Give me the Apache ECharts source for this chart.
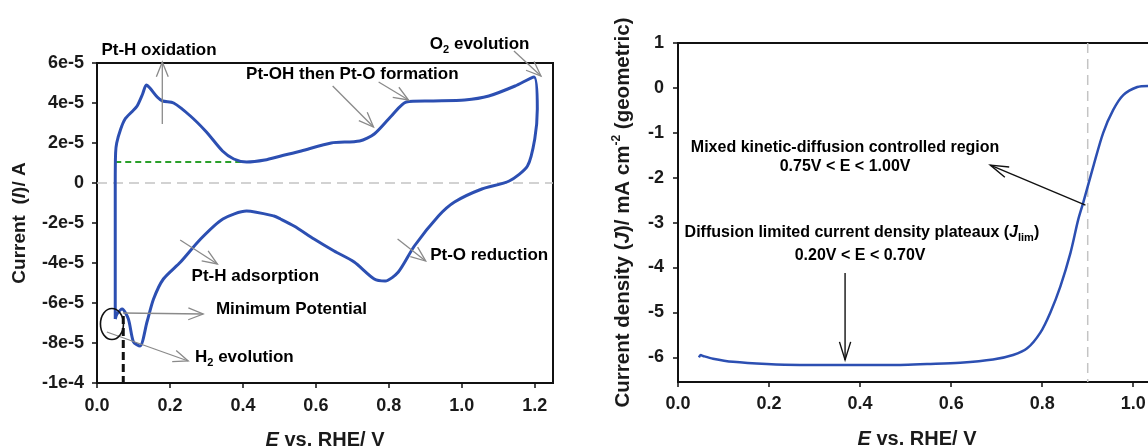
<!DOCTYPE html>
<html><head><meta charset="utf-8">
<script src="https://cdn.jsdelivr.net/npm/echarts@6/dist/echarts.min.js"></script>
<style>html,body{margin:0;padding:0;background:#fff}#c{width:1148px;height:447px}</style>
</head><body><div id="c"></div>
<script>
// ---------- Data: cyclic voltammogram (left) ----------
const cvPotential = [0.050,0.050,0.050,0.051,0.054,0.065,0.077,0.095,0.110,0.125,0.135,0.145,0.165,0.180,0.210,0.256,0.300,0.344,0.375,0.410,0.460,0.504,0.560,0.642,0.720,0.760,0.807,0.848,0.917,1.008,1.074,1.146,1.198,
  1.207,1.200,1.180,1.130,1.055,0.980,0.936,0.870,0.826,0.790,0.760,0.705,0.650,0.595,0.540,0.503,0.485,0.410,0.345,0.284,0.229,0.182,0.155,0.137,0.118,0.100,0.086,0.069,0.055,0.050];
const cvCurrent = [-6.8e-5,-4.0e-5,0.0,1.5e-5,2.0e-5,2.7e-5,3.2e-5,3.55e-5,3.85e-5,4.45e-5,4.9e-5,4.75e-5,4.3e-5,4.1e-5,4.0e-5,3.35e-5,2.55e-5,1.6e-5,1.2e-5,1.05e-5,1.15e-5,1.35e-5,1.6e-5,2.0e-5,2.1e-5,2.45e-5,3.35e-5,4.05e-5,4.1e-5,4.15e-5,4.35e-5,4.85e-5,5.3e-5,
  3.7e-5,2.2e-5,0.85e-5,0.1e-5,-0.3e-5,-0.95e-5,-1.65e-5,-3.15e-5,-4.45e-5,-4.9e-5,-4.8e-5,-3.95e-5,-3.4e-5,-2.8e-5,-2.15e-5,-1.8e-5,-1.65e-5,-1.4e-5,-1.8e-5,-2.8e-5,-3.95e-5,-4.8e-5,-5.8e-5,-6.95e-5,-8.15e-5,-7.95e-5,-6.8e-5,-6.3e-5,-6.55e-5,-6.8e-5];
const cvXTicks = [0.0,0.2,0.4,0.6,0.8,1.0,1.2];
const cvYTicks = [-1e-4,-8e-5,-6e-5,-4e-5,-2e-5,0,2e-5,4e-5,6e-5];
const doubleLayerPotential = [0.05,0.41];
const doubleLayerCurrent = [1.05e-5,1.05e-5];
const minPotentialX = [0.072,0.072];
const minPotentialY = [-6.65e-5,-1e-4];

// ---------- Data: linear sweep voltammogram (right) ----------
const lsvPotential = [0.046,0.050,0.055,0.077,0.121,0.195,0.268,0.367,0.488,0.547,0.620,0.692,0.736,0.767,0.796,0.818,0.840,0.862,0.879,0.890,0.912,0.934,0.956,0.978,1.009,1.033];
const lsvDensity   = [-6.00,-5.95,-5.97,-6.03,-6.10,-6.15,-6.17,-6.17,-6.17,-6.15,-6.12,-6.05,-5.95,-5.80,-5.45,-5.00,-4.42,-3.68,-2.94,-2.56,-1.76,-1.00,-0.49,-0.16,0.02,0.045];
const lsvXTicks = [0.0,0.2,0.4,0.6,0.8,1.0];
const lsvYTicks = [-6,-5,-4,-3,-2,-1,0,1];
const halfWavePotential = 0.90;

const FONT = '"Liberation Sans", Arial, Helvetica, sans-serif';
const INK = '#1a1a1a';
const BLUE = '#2c4fb2';
const chart = echarts.init(document.getElementById('c'), null, {renderer:'canvas'});
const tickLabel = {fontFamily:FONT, fontWeight:'bold', fontSize:18, color:INK};
const nameRich = (size) => ({
  b:{fontFamily:FONT, fontWeight:'bold', fontSize:size, color:INK, lineHeight:size+6},
  i:{fontFamily:FONT, fontWeight:'bold', fontStyle:'italic', fontSize:size, color:INK, lineHeight:size+6},
  sup:{fontFamily:FONT, fontWeight:'bold', fontSize:12, color:INK, verticalAlign:'top', lineHeight:13}
});
const sci = v => Math.abs(v) < 1e-12 ? '0' : v.toExponential(0);
const axisLine = {onZero:false, lineStyle:{color:'#111', width:2}};
const tick = vals => ({show:true, length:5, inside:false, lineStyle:{color:'#111', width:1.5}, customValues:vals});

const option = {
  animation:false,
  backgroundColor:'#fff',
  grid:[
    {left:97, top:63, width:456, height:320, show:true, borderColor:'#111', borderWidth:2, outerBoundsMode:'none', containLabel:false},
    {left:678, top:43, width:478, height:339, show:true, borderColor:'#111', borderWidth:2, outerBoundsMode:'none', containLabel:false}
  ],
  xAxis:[
    {type:'value', gridIndex:0, min:0, max:1.25, interval:0.2,
     name:'{i|E}{b| vs. RHE/ V}', nameLocation:'middle', nameGap:44, nameTextStyle:{rich:nameRich(20)},
     axisLine, axisTick:tick(cvXTicks), splitLine:{show:false},
     axisLabel:Object.assign({}, tickLabel, {margin:14, customValues:cvXTicks, formatter:v=>v.toFixed(1)})},
    {type:'value', gridIndex:1, min:0, max:1.05, interval:0.2,
     name:'{i|E}{b| vs. RHE/ V}', nameLocation:'middle', nameGap:44, nameTextStyle:{rich:nameRich(20)},
     axisLine, axisTick:tick(lsvXTicks), splitLine:{show:false},
     axisLabel:Object.assign({}, tickLabel, {margin:13, customValues:lsvXTicks, formatter:v=>v.toFixed(1)})}
  ],
  yAxis:[
    {type:'value', gridIndex:0, min:-1e-4, max:6e-5, interval:2e-5,
     name:'{b|Current  (}{i|I}{b|)/ A}', nameLocation:'middle', nameGap:65, nameRotate:90, nameTextStyle:{rich:nameRich(19)},
     axisLine, axisTick:tick(cvYTicks), splitLine:{show:false},
     axisLabel:Object.assign({}, tickLabel, {margin:13, customValues:cvYTicks, formatter:sci})},
    {type:'value', gridIndex:1, min:-6.55, max:1,
     name:'{b|Current density (}{i|J}{b|)/ mA cm}{sup|-2}{b| (geometric)}', nameLocation:'middle', nameGap:41, nameRotate:90, nameTextStyle:{rich:nameRich(20.5)},
     axisLine, axisTick:tick(lsvYTicks), splitLine:{show:false},
     axisLabel:Object.assign({}, tickLabel, {margin:14, customValues:lsvYTicks, formatter:v=>String(Math.round(v))})}
  ],
  series:[
    {type:'line', xAxisIndex:0, yAxisIndex:0, data:[[0,0],[1.25,0]], showSymbol:false, silent:true, z:1,
     lineStyle:{color:'#c4c4c4', width:1.5, type:[10,6]}},
    {type:'line', xAxisIndex:0, yAxisIndex:0, data:doubleLayerPotential.map((x,i)=>[x,doubleLayerCurrent[i]]), showSymbol:false, z:2,
     lineStyle:{color:'#2aa02a', width:2, type:[6,4]}},
    {type:'line', xAxisIndex:0, yAxisIndex:0, data:minPotentialX.map((x,i)=>[x,minPotentialY[i]]), showSymbol:false, z:2, clip:false,
     lineStyle:{color:'#111', width:3, type:[8,4]}},
    {type:'line', xAxisIndex:0, yAxisIndex:0, data:cvPotential.map((x,i)=>[x,cvCurrent[i]]), showSymbol:false, smooth:0.25, z:5,
     lineStyle:{color:BLUE, width:3}},
    {type:'line', xAxisIndex:1, yAxisIndex:1, data:[[halfWavePotential,1],[halfWavePotential,-6.55]], showSymbol:false, z:1,
     lineStyle:{color:'#c4c4c4', width:1.5, type:[10,6]}},
    {type:'line', xAxisIndex:1, yAxisIndex:1, data:lsvPotential.map((x,i)=>[x,lsvDensity[i]]), showSymbol:false, smooth:0.3, z:5,
     lineStyle:{color:BLUE, width:2.5}}
  ]
};
chart.setOption(option);

// ---------- Annotations (anchored in data coordinates) ----------
const noteRich = (size) => ({
  b:{fontFamily:FONT, fontWeight:'bold', fontSize:size, color:INK, lineHeight:size+6},
  i:{fontFamily:FONT, fontWeight:'bold', fontStyle:'italic', fontSize:size, color:INK, lineHeight:size+6},
  sub:{fontFamily:FONT, fontWeight:'bold', fontSize:11, color:INK, verticalAlign:'bottom', lineHeight:12}
});
const cvNotes = [
  {text:'{b|Pt-H oxidation}', at:[0.170, 6.65e-5]},
  {text:'{b|Pt-OH then Pt-O formation}', at:[0.700, 5.45e-5]},
  {text:'{b|O}{sub|2}{b| evolution}', at:[1.049, 6.95e-5]},
  {text:'{b|Pt-H adsorption}', at:[0.434, -4.65e-5]},
  {text:'{b|Pt-O reduction}', at:[1.075, -3.6e-5]},
  {text:'{b|Minimum Potential}', at:[0.533, -6.3e-5]},
  {text:'{b|H}{sub|2}{b| evolution}', at:[0.404, -8.7e-5]}
];
const cvArrows = [
  {from:[0.179, 2.95e-5], to:[0.179, 6.05e-5]},
  {from:[0.646, 4.85e-5], to:[0.758, 2.8e-5]},
  {from:[0.772, 5.05e-5], to:[0.854, 4.15e-5]},
  {from:[1.143, 6.6e-5],  to:[1.217, 5.35e-5]},
  {from:[0.228, -2.85e-5], to:[0.330, -4.05e-5]},
  {from:[0.824, -2.8e-5], to:[0.901, -3.9e-5]},
  {from:[0.071, -6.5e-5], to:[0.291, -6.55e-5]},
  {from:[0.027, -7.45e-5], to:[0.250, -8.9e-5]}
];
const cvEllipse = {center:[0.041, -7.05e-5]};
const lsvNotes = [
  {text:'{b|Mixed kinetic-diffusion controlled region}', at:[0.367, -1.34]},
  {text:'{b|0.75V < E < 1.00V}', at:[0.367, -1.76]},
  {text:'{b|Diffusion limited current density plateaux (}{i|J}{sub|lim}{b|)}', at:[0.404, -3.23]},
  {text:'{b|0.20V < E < 0.70V}', at:[0.400, -3.74]}
];
const lsvArrows = [
  {from:[0.895, -2.61], to:[0.686, -1.72]},
  {from:[0.367, -4.12], to:[0.367, -6.06]}
];

function arrowShapes(p0, p1, color, width, len, ang){
  const a = Math.atan2(p1[1]-p0[1], p1[0]-p0[0]);
  const w1 = [p1[0]-len*Math.cos(a-ang), p1[1]-len*Math.sin(a-ang)];
  const w2 = [p1[0]-len*Math.cos(a+ang), p1[1]-len*Math.sin(a+ang)];
  return [
    {type:'polyline', silent:true, z:20, shape:{points:[p0,p1]}, style:{stroke:color, lineWidth:width, fill:null}},
    {type:'polyline', silent:true, z:20, shape:{points:[w1,p1,w2]}, style:{stroke:color, lineWidth:width, fill:null}}
  ];
}
const gfx = [];
const px0 = p => chart.convertToPixel({gridIndex:0}, p);
const px1 = p => chart.convertToPixel({gridIndex:1}, p);
cvNotes.forEach(n => { const p = px0(n.at);
  gfx.push({type:'text', x:p[0], y:p[1], z:21, silent:true, style:{text:n.text, rich:noteRich(17), align:'center', verticalAlign:'middle'}}); });
cvArrows.forEach(a => gfx.push(...arrowShapes(px0(a.from), px0(a.to), '#8a8a8a', 1.3, 16, 0.38)));
{ const c = px0(cvEllipse.center);
  gfx.push({type:'ellipse', silent:true, z:20, shape:{cx:c[0], cy:c[1], rx:11.5, ry:15.5}, style:{stroke:'#111', lineWidth:1.6, fill:null}}); }
lsvNotes.forEach(n => { const p = px1(n.at);
  gfx.push({type:'text', x:p[0], y:p[1], z:21, silent:true, style:{text:n.text, rich:noteRich(16), align:'center', verticalAlign:'middle'}}); });
lsvArrows.forEach(a => gfx.push(...arrowShapes(px1(a.from), px1(a.to), '#111', 1.4, 19, 0.3)));
chart.setOption({graphic:gfx});
</script></body></html>
